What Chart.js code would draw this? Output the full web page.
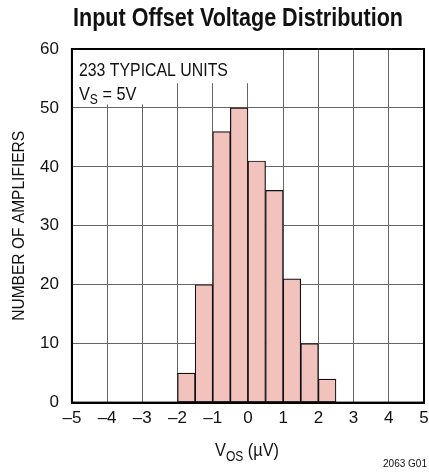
<!DOCTYPE html>
<html>
<head>
<meta charset="utf-8">
<script src="https://cdn.jsdelivr.net/npm/chart.js@4.4.1/dist/chart.umd.min.js"></script>
<style>
  html, body { margin: 0; padding: 0; background: #fff; }
  #wrap { width: 429px; height: 472px; }
</style>
</head>
<body>
<div id="wrap"><canvas id="myChart" width="429" height="472"></canvas></div>
<script>
// bins are 0.5 uV wide, listed by their centre
const binCenters = [-1.75, -1.25, -0.75, -0.25, 0.25, 0.75, 1.25, 1.75, 2.25];
const counts = [5, 20, 46, 50, 41, 36, 21, 10, 4];
const xTickValues = [-5, -4, -3, -2, -1, 0, 1, 2, 3, 4, 5];
const yTickValues = [0, 10, 20, 30, 40, 50, 60];

const FONT = '"Liberation Sans", Arial, sans-serif';
const NARROW = 0.86; // squeeze to look like a condensed Helvetica

// text squeezed horizontally; if width is given the text is fitted to it
function narrowText(ctx, text, x, y, font, width) {
  ctx.save();
  ctx.font = font;
  const w = ctx.measureText(text).width;
  const k = width ? width / w : NARROW;
  ctx.translate(x, y);
  ctx.scale(k, 1);
  ctx.textAlign = 'left';
  ctx.fillText(text, 0, 0);
  ctx.restore();
  return w * k;
}

const extrasPlugin = {
  id: 'extras',
  beforeDatasetsDraw(chart) {
    const { ctx, chartArea } = chart;
    const x = chart.scales.x;
    const y = chart.scales.y;
    // white boxes hiding the grid behind the note
    ctx.save();
    ctx.fillStyle = '#fff';
    ctx.fillRect(chartArea.left + 1, chartArea.top + 1,
      x.getPixelForValue(0.2) - chartArea.left - 1, y.getPixelForValue(54.2) - chartArea.top - 1);
    ctx.fillRect(chartArea.left + 1, chartArea.top + 1,
      x.getPixelForValue(-2.5) - chartArea.left - 1, y.getPixelForValue(50.6) - chartArea.top - 1);
    ctx.restore();
  },
  afterDraw(chart) {
    const { ctx, chartArea } = chart;
    ctx.save();
    // frame
    ctx.strokeStyle = '#000';
    ctx.lineWidth = 2;
    ctx.strokeRect(chartArea.left, chartArea.top, chartArea.right - chartArea.left, chartArea.bottom - chartArea.top);

    ctx.fillStyle = '#111';
    ctx.textBaseline = 'alphabetic';

    // title
    narrowText(ctx, 'Input Offset Voltage Distribution', 73, 26, 'bold 25px ' + FONT, 330);

    // note
    narrowText(ctx, '233 TYPICAL UNITS', chartArea.left + 7, 76, '19px ' + FONT, 149);
    let px = chartArea.left + 7;
    px += narrowText(ctx, 'V', px, 100, '19px ' + FONT);
    px += narrowText(ctx, 'S', px, 104, '14px ' + FONT);
    narrowText(ctx, ' = 5V', px, 100, '19px ' + FONT);

    // y axis title
    ctx.save();
    ctx.translate(24, (chartArea.top + chartArea.bottom) / 2 + 95);
    ctx.rotate(-Math.PI / 2);
    narrowText(ctx, 'NUMBER OF AMPLIFIERS', 0, 0, '17px ' + FONT, 190);
    ctx.restore();

    // x axis title V_OS (uV)
    let sx = 215;
    sx += narrowText(ctx, 'V', sx, 456, '19px ' + FONT);
    sx += narrowText(ctx, 'OS', sx, 461, '14px ' + FONT);
    narrowText(ctx, ' (\u00b5V)', sx, 456, '19px ' + FONT);

    // figure id
    narrowText(ctx, '2063 G01', 383, 467, '10px ' + FONT, 44);
    ctx.restore();
  }
};

const ctx = document.querySelector('#myChart');
new Chart(ctx, {
  type: 'bar',
  data: {
    datasets: [
      {
        data: binCenters.map((c, i) => ({ x: c, y: counts[i] })),
        backgroundColor: '#f2c3bd',
        borderColor: '#111',
        borderWidth: 1.2,
        borderSkipped: false,
        barPercentage: 1,
        categoryPercentage: 1,
      },
    ],
  },
  options: {
    responsive: false,
    animation: false,
    layout: {
      padding: { left: 27, right: 5, top: 49, bottom: 37 },
    },
    plugins: {
      legend: { display: false },
      tooltip: { enabled: false },
    },
    scales: {
      x: {
        type: 'linear',
        min: -5,
        max: 5,
        offset: false,
        afterBuildTicks: (scale) => {
          scale.ticks = xTickValues.map((v) => ({ value: v }));
        },
        // let the last label hang past the plot edge like the original
        afterFit: (scale) => {
          scale.paddingRight = 0;
          scale.paddingLeft = 0;
        },
        ticks: {
          color: '#111',
          font: { family: FONT, size: 17 },
          padding: 6,
          maxRotation: 0,
          autoSkip: false,
          callback: (v) => (v < 0 ? '\u2013' + Math.abs(v) : String(v)),
        },
        grid: { color: '#666', lineWidth: 1, drawTicks: false, offset: false },
        border: { display: true, color: '#000', width: 2 },
      },
      y: {
        min: 0,
        max: 60,
        afterBuildTicks: (scale) => {
          scale.ticks = yTickValues.map((v) => ({ value: v }));
        },
        ticks: {
          color: '#111',
          font: { family: FONT, size: 17 },
          padding: 13,
        },
        grid: { color: '#666', lineWidth: 1, drawTicks: false },
        border: { display: true, color: '#000', width: 2 },
      },
    },
  },
  plugins: [extrasPlugin],
});
</script>
</body>
</html>
